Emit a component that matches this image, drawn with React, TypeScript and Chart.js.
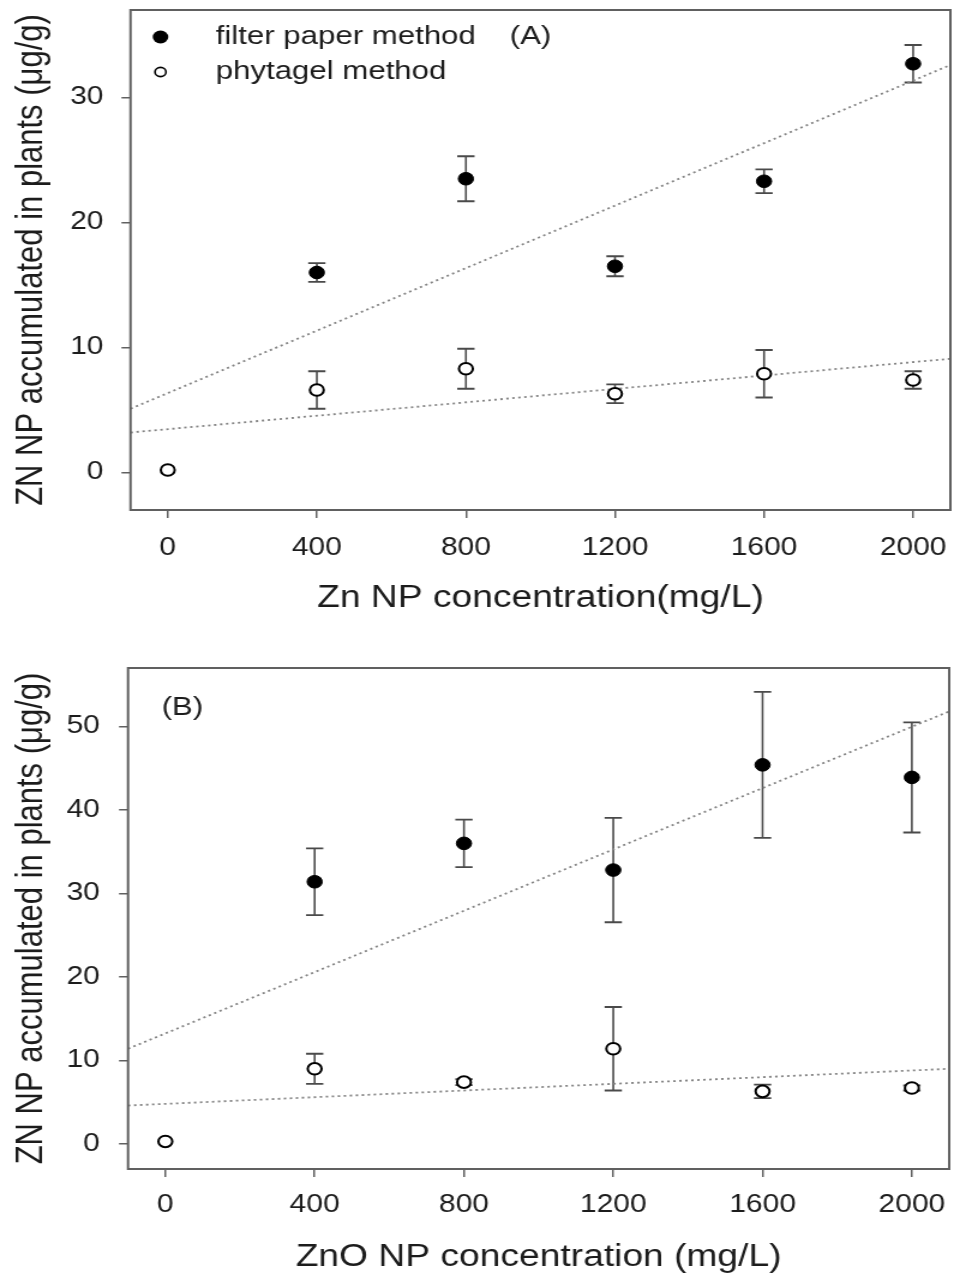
import React, { useEffect, useRef } from "react";
import { Chart, registerables } from "chart.js";

Chart.register(...registerables);

// ---------------- data ----------------
const xTickValues = [0, 400, 800, 1200, 1600, 2000];
const yTicksA = [0, 10, 20, 30];
const yTicksB = [0, 10, 20, 30, 40, 50];
const trendX = [-100, 2100];

// Panel A (Zn NP)
const filterConcA = [400, 800, 1200, 1600, 2000];
const filterMeanA = [16.0, 23.5, 16.5, 23.3, 32.7];
const filterErrA = [0.75, 1.8, 0.8, 0.95, 1.5];
const phytaConcA = [0, 400, 800, 1200, 1600, 2000];
const phytaMeanA = [0.2, 6.6, 8.3, 6.3, 7.9, 7.4];
const phytaErrA = [0, 1.5, 1.6, 0.75, 1.9, 0.7];
const filterTrendA = [5.1, 32.6];
const phytaTrendA = [3.2, 9.1];

// Panel B (ZnO NP)
const filterConcB = [400, 800, 1200, 1600, 2000];
const filterMeanB = [31.4, 36.0, 32.8, 45.4, 43.9];
const filterErrB = [4.0, 2.85, 6.25, 8.75, 6.6];
const phytaConcB = [0, 400, 800, 1200, 1600, 2000];
const phytaMeanB = [0.3, 9.0, 7.4, 11.4, 6.3, 6.7];
const phytaErrB = [0, 1.8, 0.35, 5.0, 0.8, 0.3];
const filterTrendB = [11.4, 51.8];
const phytaTrendB = [4.6, 9.0];

// ---------------- style ----------------
const SX = 1.2; // the reference figure is stretched horizontally
const CSS_W = 954;
const INNER_W = Math.round(CSS_W / SX);
const FAMILY = "'Liberation Sans', Arial, Helvetica, sans-serif";
const TEXT = "#1c1c1c";
const AXIS = "#606060";
const TREND = "#848484";

const pts = (xs: number[], ys: number[]) => xs.map((x, i) => ({ x, y: ys[i] }));

const errorBarPlugin = {
  id: "errorBars",
  beforeDatasetsDraw(chart: any) {
    const { ctx, scales } = chart;
    const xs = scales.x;
    const ys = scales.y;
    ctx.save();
    ctx.strokeStyle = "#4a4a4a";
    chart.data.datasets.forEach((ds: any) => {
      const err: number[] | undefined = ds.errorBars;
      if (!err) return;
      ds.data.forEach((p: any, j: number) => {
        const e = err[j];
        if (!e) return;
        const px = xs.getPixelForValue(p.x);
        const top = ys.getPixelForValue(p.y + e);
        const bot = ys.getPixelForValue(p.y - e);
        ctx.lineWidth = 1.6;
        ctx.beginPath();
        ctx.moveTo(px, top);
        ctx.lineTo(px, bot);
        ctx.stroke();
        ctx.lineWidth = 1.8;
        ctx.beginPath();
        ctx.moveTo(px - 7.2, top);
        ctx.lineTo(px + 7.2, top);
        ctx.moveTo(px - 7.2, bot);
        ctx.lineTo(px + 7.2, bot);
        ctx.stroke();
      });
    });
    ctx.restore();
  },
};

const frameAndLabels = {
  id: "frameAndLabels",
  afterDraw(chart: any) {
    const { ctx, chartArea } = chart;
    const opts = chart.options.plugins.frameAndLabels || {};
    ctx.save();
    ctx.strokeStyle = AXIS;
    ctx.lineWidth = 2;
    ctx.strokeRect(
      chartArea.left,
      chartArea.top,
      chartArea.right - chartArea.left,
      chartArea.bottom - chartArea.top
    );
    ctx.fillStyle = TEXT;
    ctx.textBaseline = "middle";
    ctx.textAlign = "left";
    ctx.font = `26px ${FAMILY}`;
    if (opts.legend) {
      const lx = chartArea.left + 25;
      const y1 = chartArea.top + 27;
      const y2 = chartArea.top + 62;
      ctx.fillStyle = "#000";
      ctx.beginPath();
      ctx.arc(lx, y1, 6.5, 0, Math.PI * 2);
      ctx.fill();
      ctx.beginPath();
      ctx.arc(lx, y2, 4.6, 0, Math.PI * 2);
      ctx.fillStyle = "#fff";
      ctx.fill();
      ctx.strokeStyle = "#000";
      ctx.lineWidth = 1.6;
      ctx.stroke();
      ctx.fillStyle = TEXT;
      ctx.fillText(opts.legend[0], chartArea.left + 71, y1);
      ctx.fillText(opts.legend[1], chartArea.left + 71, y2);
    }
    if (opts.tag) {
      ctx.fillText(opts.tag, chartArea.left + opts.tagDx, chartArea.top + opts.tagDy);
    }
    ctx.restore();
  },
};

type Spec = {
  height: number;
  padTop: number;
  padRight: number;
  yWidth: number;
  xHeight: number;
  yMin: number;
  yMax: number;
  yTicks: number[];
  xTitle: string;
  xTitlePad: number;
  xTickPad: number;
  yTickPad: number;
  filterX: number[];
  filterY: number[];
  filterE: number[];
  phytaX: number[];
  phytaY: number[];
  phytaE: number[];
  filterTrend: number[];
  phytaTrend: number[];
  tag: string;
  tagDx: number;
  tagDy: number;
  legend?: string[];
};

function buildConfig(s: Spec): any {
  const tickFont = { family: FAMILY, size: 25, lineHeight: 1 };
  const titleFont = { family: FAMILY, size: 31, lineHeight: 1 };
  const zeroPad = (sc: any) => {
    sc.paddingLeft = 0;
    sc.paddingRight = 0;
    sc.paddingTop = 0;
    sc.paddingBottom = 0;
  };
  return {
    type: "scatter",
    data: {
      datasets: [
        {
          label: "filter paper method",
          data: pts(s.filterX, s.filterY),
          errorBars: s.filterE,
          pointRadius: 6.3,
          pointBackgroundColor: "#000",
          pointBorderColor: "#000",
          pointBorderWidth: 1,
          order: 0,
        },
        {
          label: "phytagel method",
          data: pts(s.phytaX, s.phytaY),
          errorBars: s.phytaE,
          pointRadius: 5.8,
          pointBackgroundColor: "#fff",
          pointBorderColor: "#000",
          pointBorderWidth: 2,
          order: 1,
        },
        {
          label: "filter trend",
          data: pts(trendX, s.filterTrend),
          showLine: true,
          pointRadius: 0,
          borderColor: TREND,
          borderWidth: 1.8,
          borderDash: [2, 3],
          order: 2,
        },
        {
          label: "phytagel trend",
          data: pts(trendX, s.phytaTrend),
          showLine: true,
          pointRadius: 0,
          borderColor: TREND,
          borderWidth: 1.8,
          borderDash: [2, 3],
          order: 3,
        },
      ],
    },
    options: {
      responsive: false,
      animation: false,
      devicePixelRatio: 1,
      events: [],
      layout: { autoPadding: false, padding: { top: s.padTop, right: s.padRight, left: 0, bottom: 0 } },
      plugins: {
        legend: { display: false },
        tooltip: { enabled: false },
        frameAndLabels: { legend: s.legend, tag: s.tag, tagDx: s.tagDx, tagDy: s.tagDy },
      },
      scales: {
        x: {
          type: "linear",
          min: -100,
          max: 2100,
          afterBuildTicks: (sc: any) => {
            sc.ticks = xTickValues.map((v) => ({ value: v }));
          },
          afterFit: (sc: any) => {
            sc.height = s.xHeight;
            zeroPad(sc);
          },
          ticks: {
            autoSkip: false,
            maxRotation: 0,
            padding: s.xTickPad,
            color: TEXT,
            font: tickFont,
            callback: (v: any) => String(v),
          },
          grid: { drawOnChartArea: false, drawTicks: true, tickLength: 8, color: AXIS, lineWidth: 1.5 },
          border: { display: false },
          title: {
            display: true,
            text: s.xTitle,
            color: TEXT,
            font: titleFont,
            padding: { top: 0, bottom: s.xTitlePad },
          },
        },
        y: {
          type: "linear",
          min: s.yMin,
          max: s.yMax,
          afterBuildTicks: (sc: any) => {
            sc.ticks = s.yTicks.map((v) => ({ value: v }));
          },
          afterFit: (sc: any) => {
            sc.width = s.yWidth;
            zeroPad(sc);
          },
          ticks: {
            autoSkip: false,
            padding: s.yTickPad,
            color: TEXT,
            font: tickFont,
            callback: (v: any) => String(v),
          },
          grid: { drawOnChartArea: false, drawTicks: true, tickLength: 7.5, color: AXIS, lineWidth: 1.5 },
          border: { display: false },
          title: {
            display: true,
            text: "ZN NP accumulated in plants (μg/g)",
            color: TEXT,
            font: titleFont,
            padding: { top: 10.7, bottom: 0 },
          },
        },
      },
    },
    plugins: [errorBarPlugin, frameAndLabels],
  };
}

const specA: Spec = {
  height: 637,
  padTop: 10,
  padRight: 3,
  yWidth: 108.75,
  xHeight: 127,
  yMin: -3,
  yMax: 37,
  yTicks: yTicksA,
  xTitle: "Zn NP concentration(mg/L)",
  xTitlePad: 23,
  xTickPad: 17.5,
  yTickPad: 15,
  filterX: filterConcA,
  filterY: filterMeanA,
  filterE: filterErrA,
  phytaX: phytaConcA,
  phytaY: phytaMeanA,
  phytaE: phytaErrA,
  filterTrend: filterTrendA,
  phytaTrend: phytaTrendA,
  tag: "(A)",
  tagDx: 316,
  tagDy: 27,
  legend: ["filter paper method", "phytagel method"],
};

const specB: Spec = {
  height: 638,
  padTop: 31,
  padRight: 4,
  yWidth: 106.7,
  xHeight: 106,
  yMin: -3,
  yMax: 57,
  yTicks: yTicksB,
  xTitle: "ZnO NP concentration (mg/L)",
  xTitlePad: 2,
  xTickPad: 15.5,
  yTickPad: 16,
  filterX: filterConcB,
  filterY: filterMeanB,
  filterE: filterErrB,
  phytaX: phytaConcB,
  phytaY: phytaMeanB,
  phytaE: phytaErrB,
  filterTrend: filterTrendB,
  phytaTrend: phytaTrendB,
  tag: "(B)",
  tagDx: 28,
  tagDy: 40,
};

function Panel({ spec }: { spec: Spec }) {
  const ref = useRef<HTMLCanvasElement | null>(null);
  useEffect(() => {
    if (!ref.current) return;
    const chart = new Chart(ref.current, buildConfig(spec));
    return () => chart.destroy();
  }, [spec]);
  return (
    <canvas
      ref={ref}
      width={INNER_W}
      height={spec.height}
      style={{ display: "block", width: `${CSS_W}px`, height: `${spec.height}px` }}
    />
  );
}

export default function App() {
  return (
    <div style={{ position: "absolute", left: 0, top: 0, width: CSS_W, height: 1275, background: "#fff" }}>
      <Panel spec={specA} />
      <Panel spec={specB} />
    </div>
  );
}
